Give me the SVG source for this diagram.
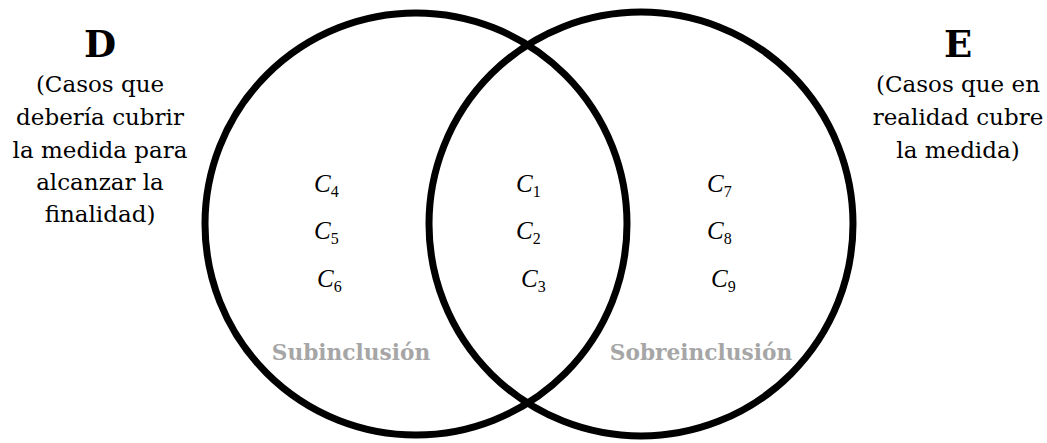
<svg xmlns="http://www.w3.org/2000/svg" width="1047" height="443" viewBox="0 0 1047 443">
<style>
.circ{fill:none;stroke:#000;stroke-width:7}
.title{font-family:"DejaVu Serif","Liberation Serif",serif;font-weight:bold;font-size:37px;fill:#000;text-anchor:middle}
.desc{font-family:"DejaVu Serif","Liberation Serif",serif;font-size:23px;fill:#000;text-anchor:middle}
.c{font-family:"Liberation Serif","DejaVu Serif",serif;font-style:italic;font-size:25px;fill:#000}
.sub{font-style:normal;font-size:16px}
.zone{font-family:"DejaVu Serif","Liberation Serif",serif;font-weight:bold;font-size:21.7px;fill:#a6a6a6;text-anchor:middle}
</style>
<rect width="1047" height="443" fill="#fff"/>
<g id="connectors"></g>
<g id="setD">
<circle class="circ" cx="416" cy="224" r="211"/>
<text class="title" x="100" y="57">D</text>
<text class="desc" x="100" y="92">(Casos que</text>
<text class="desc" x="100" y="125">debería cubrir</text>
<text class="desc" x="100" y="158">la medida para</text>
<text class="desc" x="100" y="190">alcanzar la</text>
<text class="desc" x="100" y="222">finalidad)</text>
</g>
<g id="setE">
<circle class="circ" cx="641" cy="224" r="212"/>
<text class="title" x="958" y="57">E</text>
<text class="desc" x="958" y="92">(Casos que en</text>
<text class="desc" x="958" y="125">realidad cubre</text>
<text class="desc" x="958" y="158">la medida)</text>
</g>
<g id="left-cases">
<text class="c" x="314" y="192">C<tspan class="sub" dy="5">4</tspan></text>
<text class="c" x="314" y="239">C<tspan class="sub" dy="5">5</tspan></text>
<text class="c" x="317" y="287">C<tspan class="sub" dy="5">6</tspan></text>
</g>
<g id="middle-cases">
<text class="c" x="516" y="192">C<tspan class="sub" dy="5">1</tspan></text>
<text class="c" x="516" y="239">C<tspan class="sub" dy="5">2</tspan></text>
<text class="c" x="521" y="287">C<tspan class="sub" dy="5">3</tspan></text>
</g>
<g id="right-cases">
<text class="c" x="707" y="192">C<tspan class="sub" dy="5">7</tspan></text>
<text class="c" x="707" y="239">C<tspan class="sub" dy="5">8</tspan></text>
<text class="c" x="711" y="287">C<tspan class="sub" dy="5">9</tspan></text>
</g>
<g id="labels">
<text class="zone" x="351" y="360">Subinclusión</text>
<text class="zone" x="701" y="360">Sobreinclusión</text>
</g>
</svg>
